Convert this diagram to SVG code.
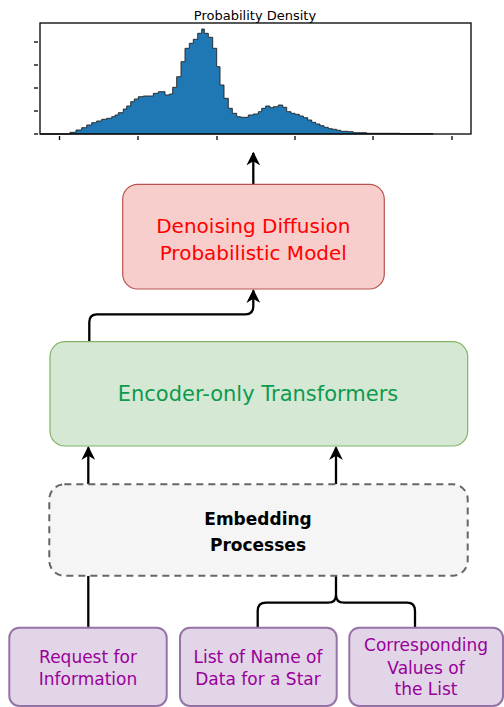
<svg xmlns="http://www.w3.org/2000/svg" width="504" height="707" viewBox="0 0 504 707">
<style>
text{font-family:"Comic Sans MS","DejaVu Sans",sans-serif;text-anchor:middle;dominant-baseline:central}
.conn{fill:none;stroke:#000;stroke-width:2.3}
.tick{stroke:#000;stroke-width:1.3}
</style>
<defs>
<marker id="ah" viewBox="0 0 10 10" refX="9" refY="5" markerWidth="6" markerHeight="6" markerUnits="strokeWidth" orient="auto">
<path d="M0,0 L10,5 L0,10 L3,5 Z" fill="#000"/>
</marker>
</defs>
<rect width="504" height="707" fill="#fff"/>

<g id="histogram">
<text x="255" y="15" font-size="13" fill="#000">Probability Density</text>
<path d="M40,134 L70,134 L70,132.3 L76,132.3 L76,130 L81.7,130 L81.7,127.7 L86.7,127.7 L86.7,125 L91.7,125 L91.7,122.7 L96.7,122.7 L96.7,121 L101.7,121 L101.7,119.3 L106.7,119.3 L106.7,118.3 L111.7,118.3 L111.7,116.7 L115,116.7 L115,115 L118.3,115 L118.3,112.7 L123.3,112.7 L123.3,109 L126.7,109 L126.7,106 L130.7,106 L130.7,101.7 L134.3,101.7 L134.3,99 L138.3,99 L138.3,96.7 L143.3,96.7 L143.3,96 L153.3,96 L153.3,93.3 L158.3,93.3 L158.3,91.7 L165,91.7 L165,95 L169.3,95 L169.3,94 L172.7,94 L172.7,87.3 L176.7,87.3 L176.7,76.7 L181,76.7 L181,61.7 L185,61.7 L185,48.3 L189.3,48.3 L189.3,43.3 L193.3,43.3 L193.3,39.3 L197.7,39.3 L197.7,33.3 L201.7,33.3 L201.7,29 L204.3,29 L204.3,33.3 L208.3,33.3 L208.3,37.3 L212.7,37.3 L212.7,48.3 L216.7,48.3 L216.7,66.7 L220,66.7 L220,85 L224,85 L224,98.3 L228.3,98.3 L228.3,108.3 L232.3,108.3 L232.3,113.3 L236.7,113.3 L236.7,116.7 L240.7,116.7 L240.7,117.3 L248.3,117.3 L248.3,115 L253.3,115 L253.3,114 L258.3,114 L258.3,111.7 L261.7,111.7 L261.7,108.3 L265.7,108.3 L265.7,106 L270,106 L270,107.7 L273.3,107.7 L273.3,106.7 L278.3,106.7 L278.3,105 L282.7,105 L282.7,107.3 L286.7,107.3 L286.7,111.7 L291,111.7 L291,113.3 L295,113.3 L295,114.3 L299.3,114.3 L299.3,116 L303.3,116 L303.3,117.7 L307.7,117.7 L307.7,120 L311.7,120 L311.7,122.3 L315.7,122.3 L315.7,124 L320,124 L320,125.7 L324,125.7 L324,127.3 L328.3,127.3 L328.3,128.7 L332.3,128.7 L332.3,129.3 L336.7,129.3 L336.7,130.3 L340.7,130.3 L340.7,131.3 L348.3,131.3 L348.3,131.7 L353.3,131.7 L353.3,132.7 L366.7,132.7 L366.7,133.3 L400,133.3 L400,133.7 L433,133.7 L433,134 Z" fill="#1f77b4" stroke="#222" stroke-width="0.9" stroke-linejoin="miter"/>
<rect x="40" y="23" width="431" height="111" fill="none" stroke="#000" stroke-width="1.3"/>
<g class="tick">
<line x1="34" y1="42" x2="38" y2="42"/>
<line x1="34" y1="65" x2="38" y2="65"/>
<line x1="34" y1="88" x2="38" y2="88"/>
<line x1="34" y1="111" x2="38" y2="111"/>
<line x1="34" y1="134" x2="38" y2="134"/>
<line x1="59.5" y1="136" x2="59.5" y2="140"/>
<line x1="138" y1="136" x2="138" y2="140"/>
<line x1="217" y1="136" x2="217" y2="140"/>
<line x1="295" y1="136" x2="295" y2="140"/>
<line x1="373" y1="136" x2="373" y2="140"/>
<line x1="452" y1="136" x2="452" y2="140"/>
</g>
</g>

<g id="connectors">
<path class="conn" d="M253.3,184.3 L253.3,153" marker-end="url(#ah)"/>
<path class="conn" d="M89.3,341.7 L89.3,322 Q89.3,314.3 97,314.3 L245.5,314.3 Q253.3,314.3 253.3,306.5 L253.3,290.5" marker-end="url(#ah)"/>
<path class="conn" d="M88.3,484.3 L88.3,447.5" marker-end="url(#ah)"/>
<path class="conn" d="M336,484.3 L336,447.5" marker-end="url(#ah)"/>
<path class="conn" d="M88.3,627.7 L88.3,575.7"/>
<path class="conn" d="M257.7,627.7 L257.7,611 Q257.7,602.7 266,602.7 L328,602.7 Q336,602.7 336,595 L336,575.7 M336,595 Q336,602.7 344,602.7 L407,602.7 Q415,602.7 415,611 L415,627.7"/>
</g>

<g id="ddpm">
<rect x="122.7" y="184.3" width="261.6" height="104.7" rx="15" fill="#f8cecc" stroke="#b85450" stroke-width="1.2"/>
<text x="253.3" y="226" font-size="20" fill="#ff0000">Denoising Diffusion</text>
<text x="253.3" y="252.7" font-size="20" fill="#ff0000">Probabilistic Model</text>
</g>

<g id="encoder">
<rect x="50" y="341.7" width="417.7" height="104.3" rx="15" fill="#d5e8d4" stroke="#82b366" stroke-width="1.2"/>
<text x="258" y="394" font-size="21" fill="#0e9a4e">Encoder-only Transformers</text>
</g>

<g id="embedding">
<rect x="49.3" y="484.3" width="418.4" height="91.4" rx="15" fill="#f5f5f5" stroke="#666" stroke-width="2" stroke-dasharray="7 5"/>
<text x="258" y="519.3" font-size="17" font-weight="bold" fill="#000">Embedding</text>
<text x="258" y="545" font-size="17" font-weight="bold" fill="#000">Processes</text>
</g>

<g id="request">
<rect x="9.3" y="627.7" width="157.4" height="78.3" rx="10" fill="#e1d5e7" stroke="#9673a6" stroke-width="2"/>
<text x="88" y="657.3" font-size="17" fill="#990099">Request for</text>
<text x="88" y="679.3" font-size="17" fill="#990099">Information</text>
</g>

<g id="list">
<rect x="180" y="627.7" width="156.7" height="78.3" rx="10" fill="#e1d5e7" stroke="#9673a6" stroke-width="2"/>
<text x="258" y="657.3" font-size="17" fill="#990099">List of Name of</text>
<text x="258" y="679.3" font-size="17" fill="#990099">Data for a Star</text>
</g>

<g id="values">
<rect x="349.3" y="627.7" width="153.7" height="78.3" rx="10" fill="#e1d5e7" stroke="#9673a6" stroke-width="2"/>
<text x="426" y="645" font-size="17" fill="#990099">Corresponding</text>
<text x="426" y="668.3" font-size="17" fill="#990099">Values of</text>
<text x="426" y="689.3" font-size="17" fill="#990099">the List</text>
</g>
</svg>
